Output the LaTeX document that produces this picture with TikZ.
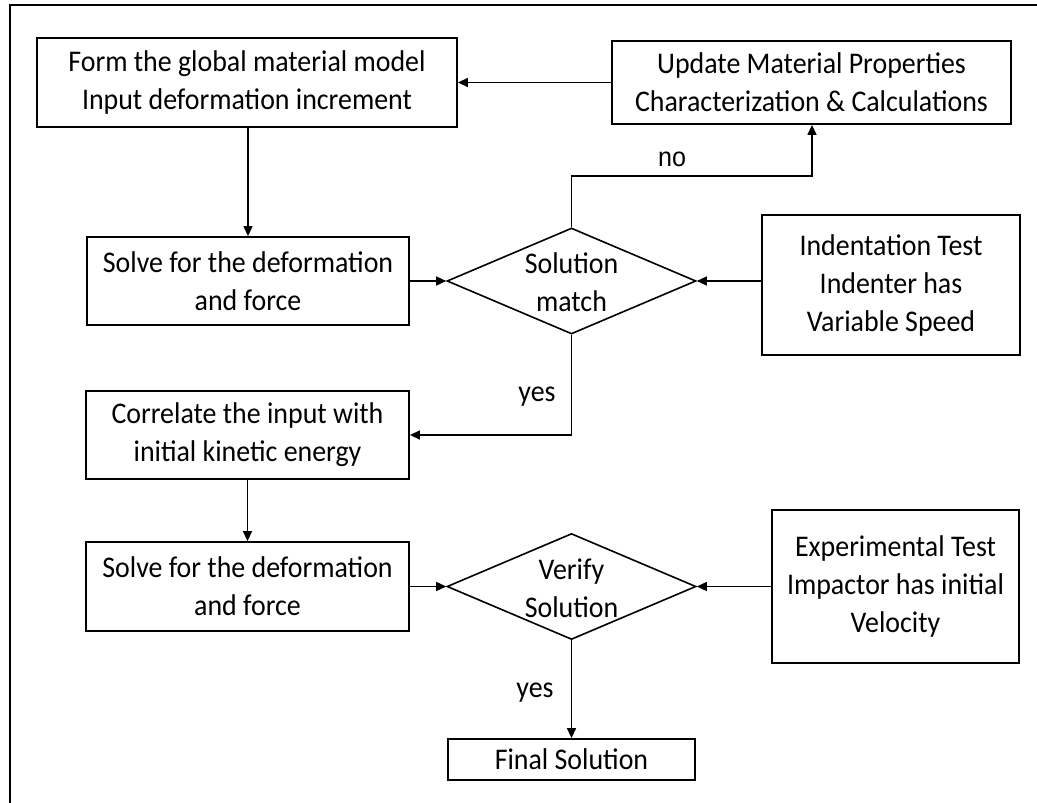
\documentclass[tikz,border=0pt]{standalone}
\usepackage{fontspec}
\setmainfont[FakeStretch=0.93]{Carlito}
\newfontfamily\labelfont[FakeStretch=0.93]{Liberation Sans}
\usetikzlibrary{shapes.geometric,arrows.meta}
\begin{document}
\begin{tikzpicture}[x=1pt,y=-1pt,
  box/.style={draw, line width=1.8pt, inner sep=0pt, align=center, font=\fontsize{30}{38}\selectfont},
  dia/.style={draw, diamond, line width=1.6pt, inner sep=0pt, minimum width=249pt, minimum height=106pt},
  txt/.style={inner sep=0pt, align=center, font=\fontsize{30}{38}\selectfont},
  lab/.style={inner sep=0pt, font=\labelfont\fontsize{27}{30}\selectfont},
  conn/.style={line width=1.4pt, -{Triangle[length=10pt,width=9pt]}},
  ]
\useasboundingbox (0,0) rectangle (1037,803);
\draw[line width=2pt] (9.5,803) -- (9.5,5) -- (1037,5);

\node[box, minimum width=420pt, minimum height=89pt] (A) at (247,82.5) {Form the global material model\\Input deformation increment};
\node[box, minimum width=399pt, minimum height=83pt] (B) at (811.5,82.5) {Update Material Properties\\Characterization \& Calculations};
\node[box, minimum width=322pt, minimum height=88pt] (C) at (248,281) {Solve for the deformation\\and force};
\node[dia] (d1) at (571.5,281) {};
\node[txt] (d1t) at (571.5,282.5) {Solution\\match};
\node[box, minimum width=258pt, minimum height=140pt] (D) at (891,285) {Indentation Test\\Indenter has\\Variable Speed};
\node[box, minimum width=323pt, minimum height=88pt] (E) at (247.5,435) {Correlate the input with\\initial kinetic energy};
\node[box, minimum width=323pt, minimum height=89pt] (F) at (247.5,586.5) {Solve for the deformation\\and force};
\node[dia] (d2) at (571.5,586.5) {};
\node[txt] (d2t) at (571.5,588) {Verify\\Solution};
\node[box, minimum width=247pt, minimum height=153pt] (G) at (895.5,586.5) {Experimental Test\\Impactor has initial\\Velocity};
\node[box, minimum width=247pt, minimum height=41pt] (fin) at (571.5,759.5) {Final Solution};

\coordinate (n1) at (571.5,176);
\coordinate (n2) at (812,176);

\draw[conn] (B.west) -- (A.east);
\draw[conn] (A.south -| C.north) -- (C.north);
\draw[conn] (C.east) -- (d1.west);
\draw[conn] (D.west |- d1.east) -- (d1.east);
\draw[conn] (d1.north) -- (n1) -- (n2) -- (n2 |- B.south);
\draw[conn] (d1.south) |- (E.east);
\draw[conn] (E.south) -- (F.north);
\draw[conn] (F.east) -- (d2.west);
\draw[conn] (G.west |- d2.east) -- (d2.east);
\draw[conn] (d2.south) -- (fin.north);

\node[lab] (no) at (672,159) {no};
\node[txt] (yes1) at (537,397) {yes};
\node[txt] (yes2) at (535,693) {yes};
\end{tikzpicture}
\end{document}
